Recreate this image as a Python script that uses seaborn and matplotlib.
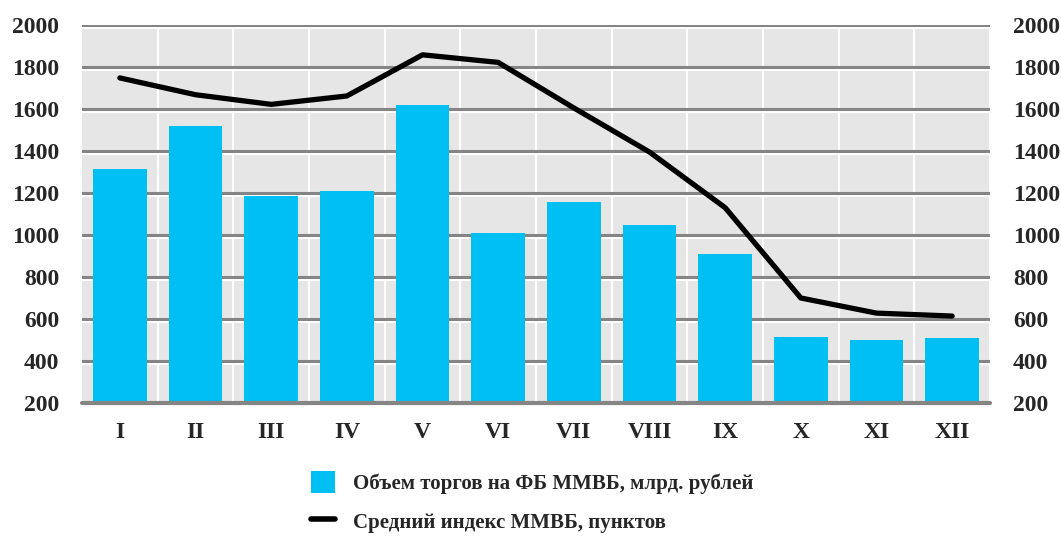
import numpy as np
import pandas as pd
import matplotlib
matplotlib.use("Agg")
import matplotlib.pyplot as plt
import matplotlib.patheffects as pe
from matplotlib.patches import Patch
from matplotlib.lines import Line2D
import seaborn as sns

months = ["I", "II", "III", "IV", "V", "VI", "VII", "VIII", "IX", "X", "XI", "XII"]
volume = [1315, 1520, 1185, 1210, 1620, 1010, 1155, 1050, 910, 515, 500, 510]
index_avg = [1748, 1668, 1622, 1662, 1858, 1822, 1605, 1395, 1130, 700, 628, 614]
y_ticks = [200, 400, 600, 800, 1000, 1200, 1400, 1600, 1800, 2000]

label_volume = "Объем торгов на ФБ ММВБ, млрд. рублей"
label_index = "Средний индекс ММВБ, пунктов"

BAR_COLOR = "#00bff2"
BG_COLOR = "#e6e6e6"
GRID_COLOR = "#858585"

sns.set_theme(style="white")
plt.rcParams["font.family"] = ["Liberation Serif", "DejaVu Serif"]
plt.rcParams["font.weight"] = "bold"

df = pd.DataFrame({"month": months, "volume": volume, "index": index_avg})

fig = plt.figure(figsize=(10.61, 5.38), dpi=100)
ax = fig.add_axes([82 / 1061, 1 - 403 / 538, (990 - 82) / 1061, (403 - 25) / 538])
ax.set_facecolor(BG_COLOR)

sns.barplot(data=df, x="month", y="volume", color=BAR_COLOR, width=0.71,
            saturation=1, linewidth=0, ax=ax, zorder=3)
sns.lineplot(x=np.arange(len(months)), y=df["index"], color="black",
             linewidth=3.8, ax=ax, zorder=4)

ax.set_xlim(-0.5, len(months) - 0.5)
ax.set_ylim(200, 2000)
ax.set_yticks(y_ticks)
ax.set_xlabel("")
ax.set_ylabel("")

# vertical white separators between months
ax.set_xticks(np.arange(len(months)) + 0.5, minor=True)
ax.grid(which="minor", axis="x", color="white", linewidth=1.5, zorder=1)
# horizontal grey grid with white line underneath
ax.grid(which="major", axis="y", color=GRID_COLOR, linewidth=2.2, zorder=2)
ax.set_axisbelow(True)
for gl in ax.get_ygridlines():
    gl.set_path_effects([pe.SimpleLineShadow(offset=(0, -1.6), shadow_color="white",
                                             alpha=1, rho=1), pe.Normal()])
ax.axhline(200, color=GRID_COLOR, linewidth=3, zorder=5, clip_on=False)

for s in ax.spines.values():
    s.set_visible(False)

ax.tick_params(axis="x", which="both", length=0, pad=14, labelsize=17)
ax.tick_params(axis="y", length=0, pad=16.5, labelsize=17, labelright=True)
for t in ax.get_xticklabels() + ax.get_yticklabels():
    t.set_fontweight("bold")

handles = [Patch(facecolor=BAR_COLOR, edgecolor="none", label=label_volume),
           Line2D([0], [0], color="black", linewidth=4, label=label_index)]
fig.legend(handles=handles, loc="upper left", bbox_to_anchor=(292 / 1061, 1 - 452 / 538),
           frameon=False, handlelength=1.15, handleheight=1.3,
           handletextpad=0.9, labelspacing=0.75, prop={"weight": "bold", "size": 15})

fig.savefig("out.png", dpi=100)
